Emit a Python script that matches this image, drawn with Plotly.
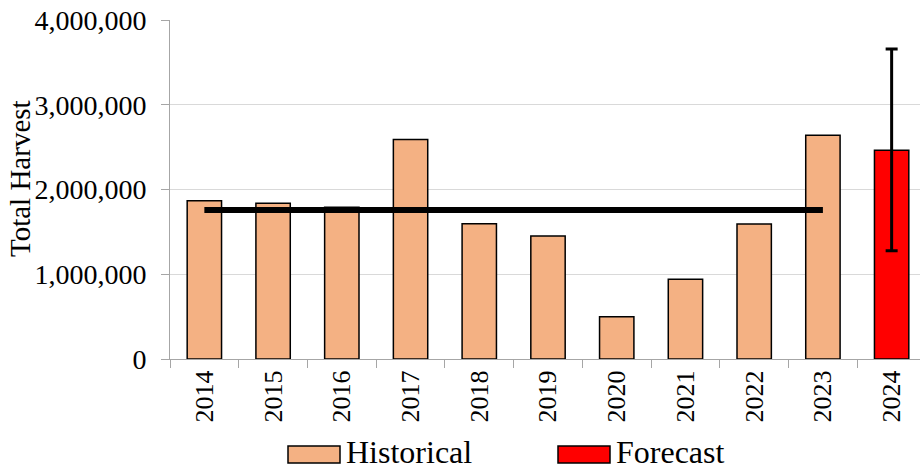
import plotly.graph_objects as go

hist_years = ["2014", "2015", "2016", "2017", "2018", "2019", "2020", "2021", "2022", "2023"]
hist_values = [1868000, 1837000, 1790000, 2590000, 1597000, 1451000, 499000, 940000, 1593000, 2640000]
fc_years = ["2024"]
fc_values = [2462000]
fc_err_plus = [1196000]
fc_err_minus = [1184000]
avg_values = [1758000] * 10

legend_labels = ["Historical", "Forecast"]
legend_colors = ["#F4B183", "#FF0000"]
y_title = "Total Harvest"

FONT = "Liberation Serif, Times New Roman, serif"

# body margin removed below, so figure coords = screen coords
W, H = 928, 470
ML, MR, MT, MB = 170, 2, 20, 111
PW, PH = W - ML - MR, H - MT - MB

fig = go.Figure()
fig.add_trace(go.Bar(
    x=hist_years, y=hist_values, name="Historical", width=0.5,
    marker=dict(color=legend_colors[0], line=dict(color="black", width=1.5)),
))
fig.add_trace(go.Bar(
    x=fc_years, y=fc_values, name="Forecast", width=0.5,
    marker=dict(color=legend_colors[1], line=dict(color="black", width=1.5)),
    error_y=dict(type="data", symmetric=False, array=fc_err_plus, arrayminus=fc_err_minus,
                 color="black", thickness=3, width=6),
))
fig.add_trace(go.Scatter(
    x=hist_years, y=avg_values, mode="lines",
    line=dict(color="black", width=6),
))


def px_x(sx):
    return (sx - ML) / PW


def px_y(sy):
    return (H - MB - sy) / PH


# manual legend (large swatches like the original)
legend_x = [288, 558]
for lx, lab, col in zip(legend_x, legend_labels, legend_colors):
    fig.add_shape(type="rect", xref="paper", yref="paper",
                  x0=px_x(lx), x1=px_x(lx + 52), y0=px_y(463), y1=px_y(446),
                  fillcolor=col, line=dict(color="black", width=1.5))
    fig.add_annotation(xref="paper", yref="paper", x=px_x(lx + 56), y=px_y(452),
                       xanchor="left", yanchor="middle", text=lab, showarrow=False,
                       font=dict(size=32, family=FONT, color="black"))

# y-axis title
fig.add_annotation(xref="paper", yref="paper", x=px_x(20), y=px_y(179),
                   xanchor="center", yanchor="middle", text=y_title, textangle=-90,
                   showarrow=False, font=dict(size=29, family=FONT, color="black"))

fig.update_layout(
    width=W, height=H,
    margin=dict(l=ML, r=MR, t=MT, b=MB),
    paper_bgcolor="white", plot_bgcolor="white",
    barmode="overlay",
    font=dict(family=FONT, size=28, color="black"),
    showlegend=False,
    xaxis=dict(
        type="category", categoryorder="array",
        categoryarray=hist_years + fc_years, automargin=False,
        tickson="boundaries", ticks="outside", ticklen=8, tickcolor="#a6a6a6",
        showline=True, linecolor="#a6a6a6", linewidth=1,
        tickangle=-90, tickfont=dict(size=26), showgrid=False,
        ticklabeloverflow="allow",
    ),
    yaxis=dict(
        range=[0, 4000000], dtick=1000000, tickformat=",", automargin=False,
        ticks="outside", ticklen=8, tickcolor="#a6a6a6", ticklabelstandoff=9,
        showline=True, linecolor="#a6a6a6", linewidth=1,
        showgrid=True, gridcolor="#d9d9d9", gridwidth=1,
        tickfont=dict(size=28), zeroline=False,
        ticklabeloverflow="allow",
    ),
)

fig.write_html("out.html",
               config={"displayModeBar": False},
               post_script="document.body.style.margin='0';document.body.style.overflow='hidden';")
